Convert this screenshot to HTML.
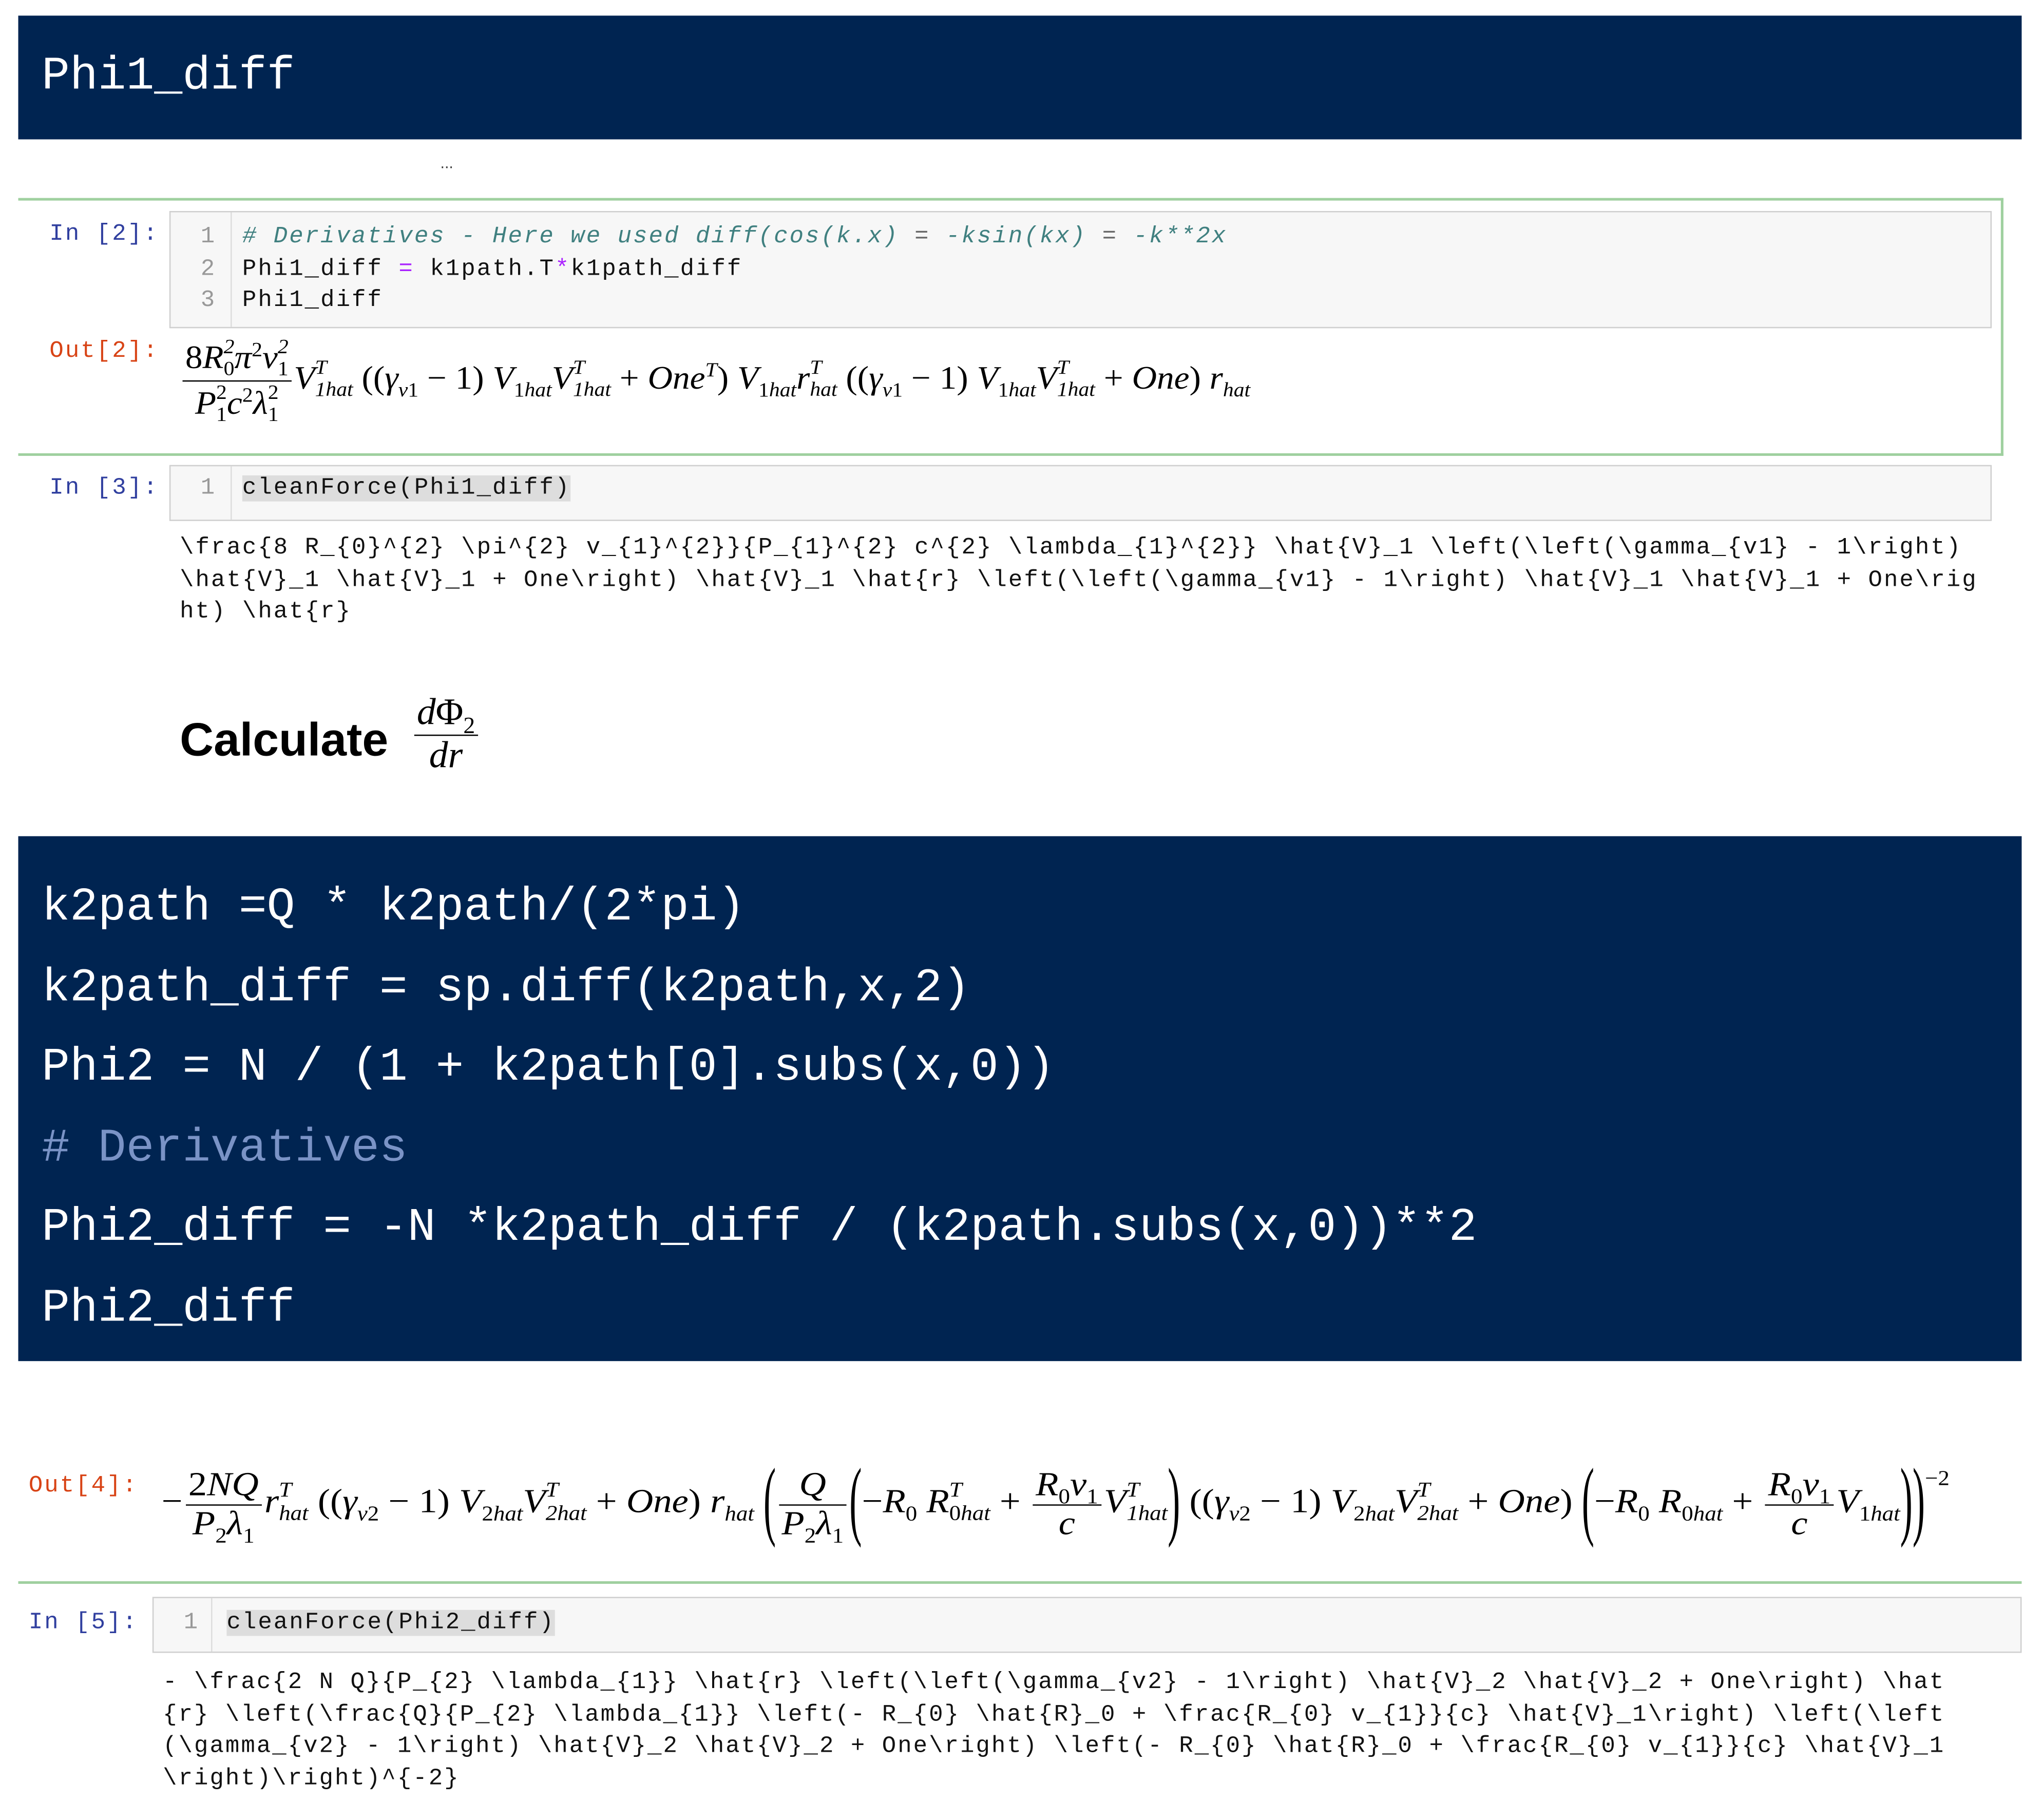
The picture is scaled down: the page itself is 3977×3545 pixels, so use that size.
<!DOCTYPE html>
<html><head><meta charset="utf-8"><style>
html,body{margin:0;padding:0;background:#fff;}
body{width:3977px;height:3545px;overflow:hidden;position:relative;}
#w{position:absolute;left:0;top:0;width:1563px;height:1393px;transform:scale(2.537);transform-origin:0 0;}
.a{position:absolute;white-space:pre;}
.nav{position:absolute;background:#002451;}
.big{font-family:"Liberation Mono",monospace;font-size:36px;color:#fff;}
.mono{font-family:"Liberation Mono",monospace;font-size:18px;letter-spacing:1.2px;color:#111;}
.pr{font-family:"Liberation Mono",monospace;font-size:18px;letter-spacing:1.2px;}
.inb{color:#303f9f}.outb{color:#d84315}
.box{position:absolute;background:#f7f7f7;border:1px solid #cfcfcf;}
.gut{position:absolute;top:0;bottom:0;border-left:1px solid #ddd;}
.ln{color:#999}
.m{font-family:"Liberation Serif",serif;font-style:italic;font-size:25px;color:#000;white-space:nowrap;transform-origin:0 50%;}
.m .r{font-style:normal}
.fr{display:inline-block;vertical-align:middle;text-align:center;line-height:1.1;margin:0 2px;}
.fr>span{display:block;padding:0 2px;}
.fr>.n{border-bottom:1.5px solid #000;}
.ss{display:inline-block;vertical-align:-0.35em;font-size:0.62em;line-height:1.1;}
.ss>span{display:block}
sub,sup{font-size:0.62em;line-height:0}
.bp{display:inline-block;transform:scale(1,2.6);font-style:normal;font-weight:100;}
</style></head><body><div id="w">

<div class="nav" style="left:14px;top:12px;width:1538px;height:95px;"></div>
<div class="a big" style="left:32px;top:38px;">Phi1_diff</div>
<div class="a" style="left:338px;top:118px;font-size:12px;font-family:'Liberation Sans',sans-serif;color:#333">...</div>

<div style="position:absolute;left:14px;top:152px;width:1522px;height:194px;border:2px solid #9fd09f;border-left:none;"></div>

<div class="a pr inb" style="left:38px;top:170px;">In [2]:</div>
<div class="box" style="left:130px;top:162px;width:1397px;height:88px;"><div class="gut" style="left:46px"></div></div>
<div class="a pr ln" style="left:154px;top:170px;line-height:24.5px;">1
2
3</div>
<div class="a mono" style="left:186px;top:170px;line-height:24.5px;"><span style="color:#408080;font-style:italic"># Derivatives - Here we used diff(cos(k.x) <span style="color:#666">=</span> -ksin(kx) <span style="color:#666">=</span> -k**2x</span>
Phi1_diff <span style="color:#aa22ff">=</span> k1path.T<span style="color:#aa22ff">*</span>k1path_diff
Phi1_diff</div>

<div class="a pr outb" style="left:38px;top:260px;">Out[2]:</div>
<div class="a m" style="left:138px;top:258px;transform:scaleX(1.06);"><span class="fr"><span class="n"><span class="r">8</span>R<span class="ss"><span>2</span><span class="r">0</span></span>π<sup class="r">2</sup>v<span class="ss"><span>2</span><span class="r">1</span></span></span><span>P<span class="ss"><span class="r">2</span><span class="r">1</span></span>c<sup class="r">2</sup>λ<span class="ss"><span class="r">2</span><span class="r">1</span></span></span></span>V<span class="ss"><span>T</span><span>1hat</span></span> <span class="r">((</span>γ<sub>v<span class="r">1</span></sub> <span class="r">− 1)</span> V<sub><span class="r">1</span>hat</sub>V<span class="ss"><span>T</span><span>1hat</span></span> <span class="r">+</span> One<sup>T</sup><span class="r">)</span> V<sub><span class="r">1</span>hat</sub>r<span class="ss"><span>T</span><span>hat</span></span> <span class="r">((</span>γ<sub>v<span class="r">1</span></sub> <span class="r">− 1)</span> V<sub><span class="r">1</span>hat</sub>V<span class="ss"><span>T</span><span>1hat</span></span> <span class="r">+</span> One<span class="r">)</span> r<sub>hat</sub></div>

<div class="a pr inb" style="left:38px;top:365px;">In [3]:</div>
<div class="box" style="left:130px;top:357px;width:1397px;height:41px;"><div class="gut" style="left:46px"></div></div>
<div class="a pr ln" style="left:154px;top:365px;">1</div>
<div class="a mono" style="left:186px;top:365px;"><span style="background:#ddd">cleanForce(Phi1_diff)</span></div>

<div class="a mono" style="left:138px;top:409px;line-height:24.5px;">\frac{8 R_{0}^{2} \pi^{2} v_{1}^{2}}{P_{1}^{2} c^{2} \lambda_{1}^{2}} \hat{V}_1 \left(\left(\gamma_{v1} - 1\right)
\hat{V}_1 \hat{V}_1 + One\right) \hat{V}_1 \hat{r} \left(\left(\gamma_{v1} - 1\right) \hat{V}_1 \hat{V}_1 + One\rig
ht) \hat{r}</div>

<div class="a" style="left:138px;top:547px;font-family:'Liberation Sans',sans-serif;font-weight:bold;font-size:36px;color:#000;">Calculate</div>
<div class="a m" style="left:316px;top:532px;font-size:29px;"><span class="fr"><span class="n">d<span class="r">Φ</span><sub class="r">2</sub></span><span>dr</span></span></div>

<div class="nav" style="left:14px;top:642px;width:1538px;height:403px;"></div>
<div class="a big" style="left:32px;top:666px;line-height:61.6px;">k2path =Q * k2path/(2*pi)
k2path_diff = sp.diff(k2path,x,2)
Phi2 = N / (1 + k2path[0].subs(x,0))
<span style="color:#7a93c6"># Derivatives</span>
Phi2_diff = -N *k2path_diff / (k2path.subs(x,0))**2
Phi2_diff</div>

<div class="a pr outb" style="left:22px;top:1131px;">Out[4]:</div>
<div class="a m" style="left:124px;top:1126px;font-size:26px;transform:scaleX(1.1);"><span class="r">−</span><span class="fr"><span class="n"><span class="r">2</span>NQ</span><span>P<sub class="r">2</sub>λ<sub class="r">1</sub></span></span>r<span class="ss"><span>T</span><span>hat</span></span> <span class="r">((</span>γ<sub>v<span class="r">2</span></sub> <span class="r">− 1)</span> V<sub><span class="r">2</span>hat</sub>V<span class="ss"><span>T</span><span>2hat</span></span> <span class="r">+</span> One<span class="r">)</span> r<sub>hat</sub> <span class="bp">(</span><span class="fr"><span class="n">Q</span><span>P<sub class="r">2</sub>λ<sub class="r">1</sub></span></span><span class="bp">(</span><span class="r">−</span>R<sub class="r">0</sub> R<span class="ss"><span>T</span><span><span class="r">0</span>hat</span></span> <span class="r">+</span> <span class="fr"><span class="n">R<sub class="r">0</sub>v<sub class="r">1</sub></span><span>c</span></span>V<span class="ss"><span>T</span><span>1hat</span></span><span class="bp">)</span> <span class="r">((</span>γ<sub>v<span class="r">2</span></sub> <span class="r">− 1)</span> V<sub><span class="r">2</span>hat</sub>V<span class="ss"><span>T</span><span>2hat</span></span> <span class="r">+</span> One<span class="r">)</span> <span class="bp">(</span><span class="r">−</span>R<sub class="r">0</sub> R<sub><span class="r">0</span>hat</sub> <span class="r">+</span> <span class="fr"><span class="n">R<sub class="r">0</sub>v<sub class="r">1</sub></span><span>c</span></span>V<sub><span class="r">1</span>hat</sub><span class="bp">))</span><sup class="r" style="vertical-align:1.3em">−2</sup></div>

<div style="position:absolute;left:14px;top:1214px;width:1538px;height:2px;background:#9fd09f;"></div>

<div class="a pr inb" style="left:22px;top:1236px;">In [5]:</div>
<div class="box" style="left:117px;top:1226px;width:1433px;height:41px;"><div class="gut" style="left:44px"></div></div>
<div class="a pr ln" style="left:141px;top:1236px;">1</div>
<div class="a mono" style="left:174px;top:1236px;"><span style="background:#ddd">cleanForce(Phi2_diff)</span></div>

<div class="a mono" style="left:125px;top:1280px;line-height:24.6px;">- \frac{2 N Q}{P_{2} \lambda_{1}} \hat{r} \left(\left(\gamma_{v2} - 1\right) \hat{V}_2 \hat{V}_2 + One\right) \hat
{r} \left(\frac{Q}{P_{2} \lambda_{1}} \left(- R_{0} \hat{R}_0 + \frac{R_{0} v_{1}}{c} \hat{V}_1\right) \left(\left
(\gamma_{v2} - 1\right) \hat{V}_2 \hat{V}_2 + One\right) \left(- R_{0} \hat{R}_0 + \frac{R_{0} v_{1}}{c} \hat{V}_1
\right)\right)^{-2}</div>

</div></body></html>
